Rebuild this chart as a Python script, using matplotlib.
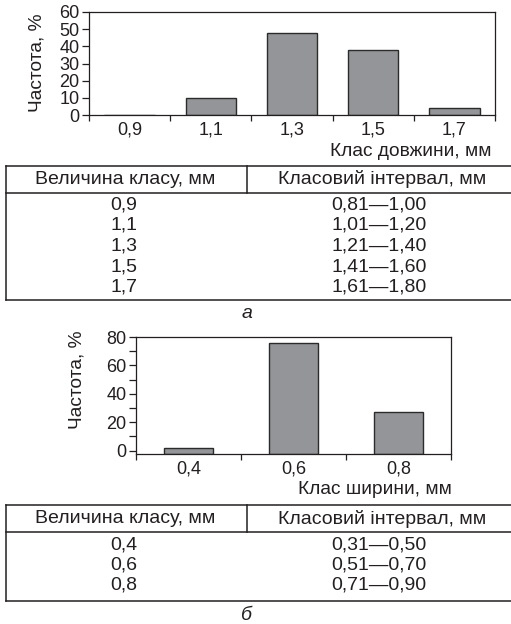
import matplotlib
matplotlib.use('Agg')
import matplotlib.pyplot as plt
import numpy as np

plt.rcParams['font.family'] = ['Liberation Sans', 'DejaVu Sans']
plt.rcParams['text.color'] = '#231f20'
plt.rcParams['axes.labelcolor'] = '#231f20'
plt.rcParams['xtick.color'] = '#231f20'
plt.rcParams['ytick.color'] = '#231f20'

# дані: довжина
len_classes = ['0,9', '1,1', '1,3', '1,5', '1,7']
len_freq = [0, 10, 48, 38, 4]
len_intervals = ['0,81—1,00', '1,01—1,20', '1,21—1,40', '1,41—1,60', '1,61—1,80']

# дані: ширина
wid_classes = ['0,4', '0,6', '0,8']
wid_freq = [2, 76, 27]
wid_intervals = ['0,31—0,50', '0,51—0,70', '0,71—0,90']

header = ['Величина класу, мм', 'Класовий інтервал, мм']

W, H = 511, 624
fig = plt.figure(figsize=(W / 100, H / 100), dpi=100)
FS = 13        # підписи осей
LFS = 13.8     # назви осей
TFS = 14       # таблиці
BAR_C = '#939598'
EDGE_C = '#2b2b2b'


def px_axes(left, top, right, bottom):
    return fig.add_axes([left / W, 1 - bottom / H, (right - left) / W, (bottom - top) / H])


def bar_chart(ax, classes, freq, ymin, ymax, major, minor, bar_w):
    x = np.arange(len(classes))
    ax.bar(x, np.array(freq) - ymin, bottom=ymin, width=bar_w, color=BAR_C,
           edgecolor=EDGE_C, linewidth=1.0)
    ax.set_xlim(-0.5, len(classes) - 0.5)
    ax.set_ylim(ymin, ymax)
    ax.set_xticks(x)
    ax.set_xticklabels(classes, fontsize=FS)
    ax.set_xticks(np.arange(len(classes) + 1) - 0.5, minor=True)
    ax.tick_params(axis='x', which='major', length=0, pad=5)
    ax.tick_params(axis='x', which='minor', length=4.5, width=0.9, direction='out')
    ax.set_yticks(major)
    ax.set_yticks(minor, minor=True)
    ax.tick_params(axis='y', which='both', length=5, width=0.9, direction='out', pad=2,
                   labelsize=FS)
    for s in ax.spines.values():
        s.set_linewidth(0.9)
        s.set_color('#231f20')


# графік а
ax1 = px_axes(89, 12, 495, 115)
bar_chart(ax1, len_classes, len_freq, 0, 60, np.arange(0, 61, 10), [], 0.62)
fig.text(37 / W, 1 - 63 / H, 'Частота, %', rotation=90, ha='center', va='center', fontsize=LFS)
fig.text(492 / W, 1 - 152 / H, 'Клас довжини, мм', ha='right', va='center', fontsize=LFS)

# графік б
ax2 = px_axes(136, 337, 451, 454)
bar_chart(ax2, wid_classes, wid_freq, -2.4, 80, np.arange(0, 81, 20), np.arange(10, 80, 20), 0.47)
fig.text(77 / W, 1 - 380 / H, 'Частота, %', rotation=90, ha='center', va='center', fontsize=LFS)
fig.text(452 / W, 1 - 490 / H, 'Клас ширини, мм', ha='right', va='center', fontsize=LFS)

# таблиці
tax = fig.add_axes([0, 0, 1, 1])
tax.set_xlim(0, W)
tax.set_ylim(H, 0)
tax.axis('off')


def draw_table(top, head_line, bottom, row_y, classes, intervals, label, label_y):
    lc = '#231f20'
    lw = 1.1
    tax.plot([6, W], [top, top], color=lc, lw=lw)
    tax.plot([6, W], [head_line, head_line], color=lc, lw=lw)
    tax.plot([6, W], [bottom, bottom], color=lc, lw=lw)
    tax.plot([6, 6], [top, bottom], color=lc, lw=lw)
    tax.plot([247, 247], [top, head_line], color=lc, lw=lw)
    hy = (top + head_line) / 2
    tax.text(125, hy, header[0], ha='center', va='center', fontsize=TFS)
    tax.text(382, hy, header[1], ha='center', va='center', fontsize=TFS)
    for i, (c, iv) in enumerate(zip(classes, intervals)):
        y = row_y[0] + i * row_y[1]
        tax.text(124, y, c, ha='center', va='center', fontsize=TFS)
        tax.text(379, y, iv, ha='center', va='center', fontsize=TFS)
    tax.text(247, label_y, label, ha='center', va='center', fontsize=TFS, style='italic')


draw_table(166, 193, 300, (205, 20.5), len_classes, len_intervals, 'а', 313)
draw_table(505, 532, 601, (545, 20), wid_classes, wid_intervals, 'б', 616)

fig.savefig('out.png', dpi=100)
